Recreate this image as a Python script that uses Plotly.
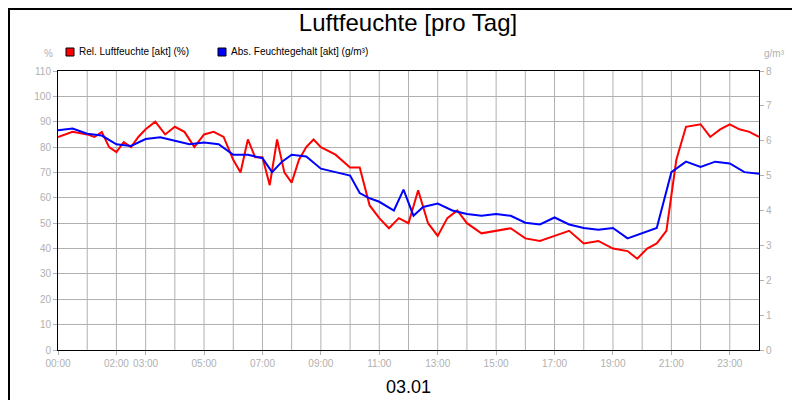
import plotly.graph_objects as go

rel_t = [0,0.5,1,1.25,1.5,1.75,2,2.25,2.5,2.75,3,3.33,3.67,4,4.33,4.67,5,5.33,5.67,6,6.25,6.5,6.75,7,7.25,7.5,7.75,8,8.25,8.5,8.75,9,9.5,10,10.33,10.67,11,11.33,11.67,12,12.33,12.67,13,13.33,13.67,14,14.5,15,15.5,16,16.5,17,17.5,18,18.5,19,19.5,19.83,20.17,20.5,20.83,21.17,21.5,22,22.33,22.67,23,23.33,23.67,24]
rel_v = [84,86,85,84,86,80,78,82,80,84,87,90,85,88,86,80,85,86,84,75,70,83,76,76,65,83,70,66,75,80,83,80,77,72,72,57,52,48,52,50,63,50,45,52,55,50,46,47,48,44,43,45,47,42,43,40,39,36,40,42,47,75,88,89,84,87,89,87,86,84]

abs_t = [0,0.5,1,1.5,2,2.5,3,3.5,4,4.5,5,5.5,6,6.5,7,7.33,7.67,8,8.5,9,9.5,10,10.33,10.67,11,11.5,11.83,12.17,12.5,13,13.5,14,14.5,15,15.5,16,16.5,17,17.5,18,18.5,19,19.5,20,20.5,21,21.5,22,22.5,23,23.5,24]
abs_v = [6.3,6.35,6.2,6.15,5.9,5.85,6.05,6.1,6.0,5.9,5.95,5.9,5.6,5.6,5.5,5.1,5.4,5.6,5.55,5.2,5.1,5.0,4.5,4.35,4.25,4.0,4.6,3.85,4.1,4.2,4.0,3.9,3.85,3.9,3.85,3.65,3.6,3.8,3.6,3.5,3.45,3.5,3.2,3.35,3.5,5.1,5.4,5.25,5.4,5.35,5.1,5.05]

tick_vals = [0,2,3,5,7,9,11,13,15,17,19,21,23]
tick_text = ["00:00","02:00","03:00","05:00","07:00","09:00","11:00","13:00","15:00","17:00","19:00","21:00","23:00"]

series_names = ["Rel. Luftfeuchte [akt] (%)", "Abs. Feuchtegehalt [akt] (g/m³)"]
series_colors = ["#ff0000", "#0000ff"]

fig = go.Figure()
fig.add_trace(go.Scatter(x=rel_t, y=rel_v, mode="lines", name=series_names[0],
                         line=dict(color=series_colors[0], width=2)))
fig.add_trace(go.Scatter(x=abs_t, y=abs_v, mode="lines", name=series_names[1],
                         line=dict(color=series_colors[1], width=2), yaxis="y2"))

grey = "#b0b0b0"
W, H = 701, 279
fig.update_layout(
    width=800, height=400, paper_bgcolor="white", plot_bgcolor="white",
    margin=dict(l=50, r=49, t=63, b=58, autoexpand=False),
    font=dict(family="Liberation Sans, Arial", size=10, color=grey),
    title=dict(text="Luftfeuchte [pro Tag]", x=0.5, xanchor="center", y=0.985, yanchor="top",
               font=dict(size=24, color="black")),
    showlegend=False,
    xaxis=dict(range=[0, 24], tickvals=tick_vals, ticktext=tick_text, showgrid=False,
               showline=True, linecolor="black", mirror=True, ticks="outside", ticklen=4,
               tickcolor=grey, zeroline=False, tickfont=dict(color=grey), automargin=False),
    yaxis=dict(range=[0, 110], dtick=10, showgrid=True, gridcolor=grey, showline=True,
               linecolor="black", mirror=True, ticks="outside", ticklen=4, tickcolor=grey,
               zeroline=False, tickfont=dict(color=grey), automargin=False),
    yaxis2=dict(range=[0, 8], dtick=1, overlaying="y", side="right", showgrid=False,
                ticks="outside", ticklen=4, tickcolor=grey, zeroline=False,
                tickfont=dict(color=grey), automargin=False),
)
for h in range(1, 24):
    fig.add_shape(type="line", xref="x", yref="paper", x0=h, x1=h, y0=0, y1=1,
                  line=dict(color=grey, width=1), layer="below")
fig.add_shape(type="rect", xref="paper", yref="paper", x0=-49/W, x1=1+48/W,
              y0=-57/H, y1=1+62/H, line=dict(color="black", width=2))
# legend drawn manually (square markers)
leg_x = [58, 210]
for name, col, lx in zip(series_names, series_colors, leg_x):
    x0 = (lx - 50) / W
    fig.add_shape(type="rect", xref="paper", yref="paper", x0=x0, x1=x0 + 8/W,
                  y0=1 + (342-63-(44-342+279)) / H * 0 + (63-48)/H, y1=1 + (63-40)/H,
                  fillcolor=col, line=dict(color="black", width=1))
    fig.add_annotation(text=name, xref="paper", yref="paper", x=x0 + 11/W, y=1 + (63-44)/H,
                       xanchor="left", yanchor="middle", showarrow=False,
                       font=dict(size=10, color="black"))
fig.add_annotation(text="%", xref="paper", yref="paper", x=-3/W, y=1+10/H,
                   xanchor="right", yanchor="bottom", showarrow=False, font=dict(size=10, color=grey))
fig.add_annotation(text="g/m³", xref="paper", yref="paper", x=1+15/W, y=1+10/H,
                   xanchor="center", yanchor="bottom", showarrow=False, font=dict(size=10, color=grey))
fig.add_annotation(text="03.01", xref="paper", yref="paper", x=0.5, y=-25/H,
                   xanchor="center", yanchor="top", showarrow=False, font=dict(size=18, color="black"))
fig.write_html("out.html")
